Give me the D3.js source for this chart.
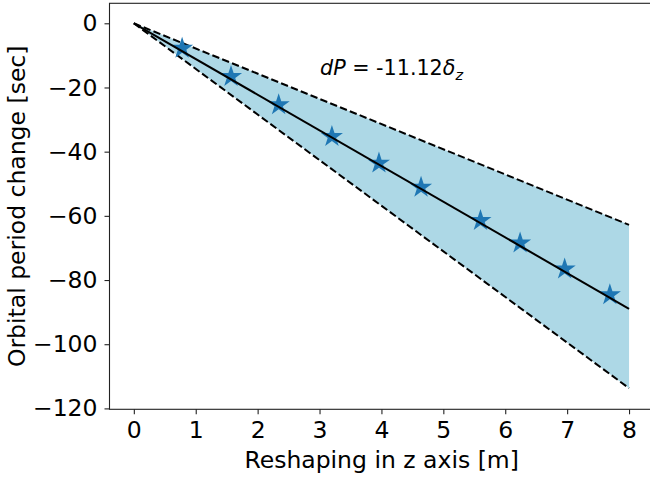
<!DOCTYPE html>
<html><head><meta charset="utf-8">
<script src="https://cdn.jsdelivr.net/npm/d3@7"></script>
<style>body{margin:0;background:#fff}svg{display:block}text{font-family:"DejaVu Sans",sans-serif}</style>
</head><body>
<script>
const pointX = [0.78, 1.57, 2.34, 3.20, 3.96, 4.64, 5.60, 6.24, 6.96, 7.69];
const pointY = [-7.8, -16.6, -25.4, -35.3, -43.6, -51.1, -61.5, -68.5, -76.6, -84.6];
const lineX = [0, 8];
const fitY = [0, -88.96];
const upperY = [0, -62.8];
const lowerY = [0, -113.7];
const xTicks = [0, 1, 2, 3, 4, 5, 6, 7, 8];
const yTicks = [0, -20, -40, -60, -80, -100, -120];

const W = 650, H = 477;
const L = 109.5, R = 653.8, T = 3.3, B = 409.3;
const FS = 23.5;
const svg = d3.select("body").append("svg").attr("width", W).attr("height", H);
const x = d3.scaleLinear().domain([-0.393, 8.4]).range([L, R]);
const y = d3.scaleLinear().domain([-120.28, 6.23]).range([B, T]);

// band
const band = lineX.map((v, i) => [v, upperY[i]]).concat(lineX.slice().reverse().map((v, i) => [v, lowerY[lineX.length - 1 - i]]));
svg.append("path").attr("d", d3.line().x(d => x(d[0])).y(d => y(d[1]))(band) + "Z")
  .attr("fill", "#add8e6");

const ln = d3.line().x(d => x(d[0])).y(d => y(d[1]));
[upperY, lowerY].forEach(arr => {
  svg.append("path").attr("d", ln(lineX.map((v, i) => [v, arr[i]])))
    .attr("fill", "none").attr("stroke", "#000").attr("stroke-width", 2)
    .attr("stroke-dasharray", "7.4,3.2");
});

// stars
function starPath(ro) {
  const ri = ro * 0.381966, pts = [];
  for (let k = 0; k < 10; k++) {
    const a = -Math.PI / 2 + k * Math.PI / 5, r = k % 2 ? ri : ro;
    pts.push([r * Math.cos(a), r * Math.sin(a)]);
  }
  return "M" + pts.map(p => p.join(",")).join("L") + "Z";
}
svg.append("g").selectAll("path").data(pointX.map((v, i) => [v, pointY[i]])).join("path")
  .attr("d", starPath(11.6)).attr("transform", d => `translate(${x(d[0])},${y(d[1])})`)
  .attr("fill", "#1f77b4");

svg.append("path").attr("d", ln(lineX.map((v, i) => [v, fitY[i]])))
  .attr("fill", "none").attr("stroke", "#000").attr("stroke-width", 2);

// axes
const fmt = d => d < 0 ? "\u2212" + Math.abs(d) : String(d);
const gx = svg.append("g").attr("transform", `translate(0,${B})`)
  .call(d3.axisBottom(x).tickValues(xTicks).tickFormat(fmt).tickSize(5).tickPadding(7).tickSizeOuter(0));
const gy = svg.append("g").attr("transform", `translate(${L},0)`)
  .call(d3.axisLeft(y).tickValues(yTicks).tickFormat(fmt).tickSize(5).tickPadding(7).tickSizeOuter(0));
[gx, gy].forEach(g => {
  g.select(".domain").remove();
  g.selectAll("line").attr("stroke", "#222").attr("stroke-width", 1.1);
  g.selectAll("text").attr("font-size", FS).attr("fill", "#000").style("font-family", "DejaVu Sans");
});
svg.append("rect").attr("x", L).attr("y", T).attr("width", R - L).attr("height", B - T)
  .attr("fill", "none").attr("stroke", "#222").attr("stroke-width", 1.1);

svg.append("text").attr("x", (L + R) / 2).attr("y", 468).attr("text-anchor", "middle")
  .attr("font-size", FS).text("Reshaping in z axis [m]");
svg.append("text").attr("transform", `translate(25,${(T + B) / 2}) rotate(-90)`).attr("text-anchor", "middle")
  .attr("font-size", FS).text("Orbital period change [sec]");

const t = svg.append("text").attr("x", 320).attr("y", 75).attr("font-size", 20.7);
t.append("tspan").attr("font-style", "italic").text("dP");
t.append("tspan").text(" = -11.12");
t.append("tspan").attr("font-style", "italic").text("δ");
t.append("tspan").attr("font-style", "italic").attr("font-size", 14.5).attr("dy", 4.5).text("z");
</script>
</body></html>
